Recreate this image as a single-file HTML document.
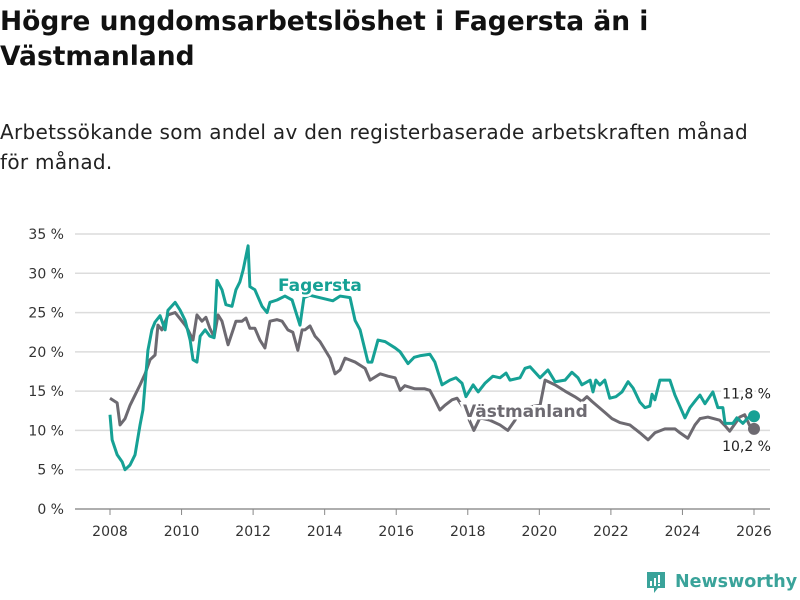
<!DOCTYPE html>
<html><head><meta charset="utf-8">
<style>
body{margin:0;width:800px;height:600px;background:#fff;font-family:"DejaVu Sans","Liberation Sans",sans-serif;overflow:hidden;position:relative}
h1{position:absolute;left:0;top:4px;margin:0;font-size:26.5px;line-height:35px;font-weight:bold;color:#111;width:790px}
.sub{position:absolute;left:0;top:117px;font-size:20px;line-height:30px;color:#222;width:800px;letter-spacing:0.3px;white-space:nowrap}
svg{position:absolute;left:0;top:0}
</style></head><body>
<h1>Högre ungdomsarbetslöshet i Fagersta än i Västmanland</h1>
<div class="sub">Arbetssökande som andel av den registerbaserade arbetskraften månad<br>för månad.</div>
<svg id="c" width="800" height="600"></svg>
<div style="position:absolute;left:645px;top:570px;display:flex;align-items:center;color:#3aa39a;font-size:17.5px;font-weight:bold;white-space:nowrap">
<svg width="22" height="24" style="position:static;margin-right:8px"><path d="M2 2h18v16h-7l-4 5v-5H2z" fill="#3aa39a"/><rect x="5" y="11" width="2" height="5" fill="#fff"/><rect x="9" y="8" width="2" height="8" fill="#fff"/><rect x="13" y="5" width="2" height="8" fill="#fff"/><rect x="13" y="14" width="2" height="2" fill="#fff"/></svg>Newsworthy</div>
<script>
const yTicks=[0,5,10,15,20,25,30,35];
const xTicks=[2008,2010,2012,2014,2016,2018,2020,2022,2024,2026];
const fagYears=[2008.00,2008.06,2008.20,2008.34,2008.42,2008.56,2008.70,2008.84,2008.92,2009.06,2009.17,2009.26,2009.40,2009.54,2009.62,2009.82,2009.96,2010.10,2010.24,2010.32,2010.43,2010.52,2010.66,2010.79,2010.91,2010.99,2011.13,2011.24,2011.41,2011.52,2011.63,2011.72,2011.86,2011.91,2012.05,2012.25,2012.39,2012.47,2012.67,2012.89,2013.09,2013.31,2013.42,2013.59,2014.23,2014.43,2014.71,2014.85,2014.99,2015.21,2015.32,2015.49,2015.69,2015.97,2016.11,2016.33,2016.50,2016.66,2016.94,2017.08,2017.28,2017.50,2017.67,2017.84,2017.95,2018.15,2018.29,2018.48,2018.70,2018.90,2019.07,2019.18,2019.46,2019.60,2019.74,2020.02,2020.24,2020.44,2020.72,2020.91,2021.08,2021.19,2021.42,2021.50,2021.58,2021.69,2021.83,2021.97,2022.14,2022.31,2022.48,2022.62,2022.81,2022.95,2023.09,2023.15,2023.23,2023.37,2023.65,2023.79,2024.07,2024.21,2024.38,2024.49,2024.63,2024.85,2024.99,2025.13,2025.19,2025.41,2025.52,2025.69,2025.83,2026.00];
const fagValues=[12.0,8.8,6.9,6.0,5.0,5.6,6.9,10.7,12.6,20.2,22.8,23.8,24.6,22.8,25.3,26.3,25.3,24.0,21.5,19.0,18.7,22.0,22.8,22.0,21.8,29.1,27.9,26.0,25.8,27.9,28.9,30.4,33.5,28.3,27.9,25.8,25.0,26.3,26.6,27.1,26.6,23.4,26.9,27.2,26.5,27.1,26.9,24.0,22.8,18.7,18.7,21.5,21.3,20.5,20.0,18.5,19.3,19.5,19.7,18.7,15.8,16.4,16.7,16.0,14.3,15.8,14.9,16.0,16.9,16.7,17.3,16.4,16.7,17.9,18.1,16.7,17.7,16.2,16.4,17.4,16.7,15.8,16.4,14.9,16.4,15.8,16.4,14.1,14.3,14.9,16.2,15.4,13.6,12.9,13.1,14.6,13.9,16.4,16.4,14.5,11.6,12.9,13.9,14.5,13.4,14.9,12.9,12.9,10.9,10.9,11.6,10.9,11.6,11.8];
const vasYears=[2008.00,2008.20,2008.28,2008.42,2008.56,2008.70,2008.84,2008.98,2009.12,2009.26,2009.34,2009.45,2009.62,2009.82,2009.96,2010.10,2010.18,2010.32,2010.43,2010.57,2010.68,2010.79,2010.91,2011.02,2011.13,2011.30,2011.44,2011.52,2011.69,2011.80,2011.91,2012.05,2012.19,2012.33,2012.47,2012.67,2012.81,2012.97,2013.11,2013.25,2013.37,2013.45,2013.59,2013.73,2013.87,2014.15,2014.29,2014.43,2014.57,2014.85,2015.13,2015.27,2015.41,2015.55,2015.77,2015.97,2016.11,2016.24,2016.52,2016.80,2016.94,2017.08,2017.22,2017.36,2017.56,2017.70,2017.92,2018.17,2018.34,2018.62,2018.90,2019.12,2019.32,2019.46,2019.74,2020.02,2020.16,2020.44,2020.72,2020.99,2021.19,2021.33,2021.47,2021.83,2022.03,2022.25,2022.53,2022.81,2023.04,2023.23,2023.51,2023.79,2023.93,2024.15,2024.35,2024.49,2024.71,2025.04,2025.19,2025.32,2025.60,2025.74,2025.88,2026.00];
const vasValues=[14.1,13.5,10.7,11.5,13.2,14.5,15.8,17.2,19.0,19.6,23.4,22.8,24.7,25.0,24.2,23.4,22.8,21.5,24.7,23.9,24.4,23.0,21.9,24.7,23.9,20.9,22.8,23.9,23.9,24.3,23.0,23.0,21.5,20.5,23.9,24.1,23.9,22.8,22.5,20.2,22.8,22.8,23.3,22.0,21.3,19.2,17.2,17.7,19.2,18.7,17.9,16.4,16.8,17.2,16.9,16.7,15.1,15.7,15.3,15.3,15.1,13.9,12.6,13.2,13.9,14.1,12.6,10.0,11.6,11.3,10.7,10.0,11.3,12.6,13.0,13.2,16.4,15.8,15.0,14.3,13.7,14.3,13.7,12.3,11.5,11.0,10.7,9.7,8.8,9.7,10.2,10.2,9.7,9.0,10.7,11.5,11.7,11.3,10.6,9.9,11.7,12.0,10.6,10.2];
const NS='http://www.w3.org/2000/svg';
const svg=document.getElementById('c');
const x=v=>110+(v-2008)*(644/18);
const y=v=>509-v*(275/35);
function mk(t,a,p){const e=document.createElementNS(NS,t);for(const k in a)e.setAttribute(k,a[k]);(p||svg).appendChild(e);return e;}
yTicks.forEach(t=>{
  const g=mk('line',{x1:75,x2:770,y1:y(t),y2:y(t),stroke:'#dcdcdc','stroke-width':1.5});
  
  
  const l=mk('text',{x:64,y:y(t)+5,'text-anchor':'end','font-size':14,fill:'#333','font-family':'DejaVu Sans, Liberation Sans, sans-serif'});
  l.textContent=t+' %';
  
  
});
mk('line',{x1:75,x2:770,y1:509,y2:509,stroke:'#888','stroke-width':1.2});
xTicks.forEach(t=>{
  const k=mk('line',{x1:x(t),x2:x(t),y1:509,y2:515,stroke:'#888'});
  
  
  const l=mk('text',{x:x(t),y:536,'text-anchor':'middle','font-size':14,fill:'#333','font-family':'DejaVu Sans, Liberation Sans, sans-serif'});
  l.textContent=t;
  
  
});
function line(xs,vs,col,name){
  const p=mk('polyline',{points:xs.map((d,i)=>x(d)+','+y(vs[i])).join(' '),fill:'none',stroke:col,'stroke-width':3,'stroke-linejoin':'round'});
  
  
}
line(vasYears,vasValues,'#6d6a71','vastmanland-line');
line(fagYears,fagValues,'#16a195','fagersta-line');
function lab(t,xx,yy,col,name,size,w,anchor){
  const e=mk('text',{x:xx,y:yy,fill:col,'font-size':size,'font-weight':w,'text-anchor':anchor||'start',stroke:'#fff','stroke-width':5,'paint-order':'stroke','font-family':'DejaVu Sans, Liberation Sans, sans-serif'});
  e.textContent=t;
  
  
}
lab('Fagersta',278,291,'#16a195','fagersta-label',17,'bold');
lab('Västmanland',463,417,'#6d6a71','vastmanland-label',17,'bold');
const fl=fagValues[fagValues.length-1], vl=vasValues[vasValues.length-1];
const d1=mk('circle',{cx:x(2026),cy:y(fl),r:6,fill:'#16a195'});


const d2=mk('circle',{cx:x(2026),cy:y(vl),r:6,fill:'#6d6a71'});


lab(fl.toFixed(1).replace('.',',')+' %',771,y(fl)-18,'#222','fagersta-end-value',14,'normal','end');
lab(vl.toFixed(1).replace('.',',')+' %',771,y(vl)+22,'#222','vastmanland-end-value',14,'normal','end');
</script>
</body></html>
